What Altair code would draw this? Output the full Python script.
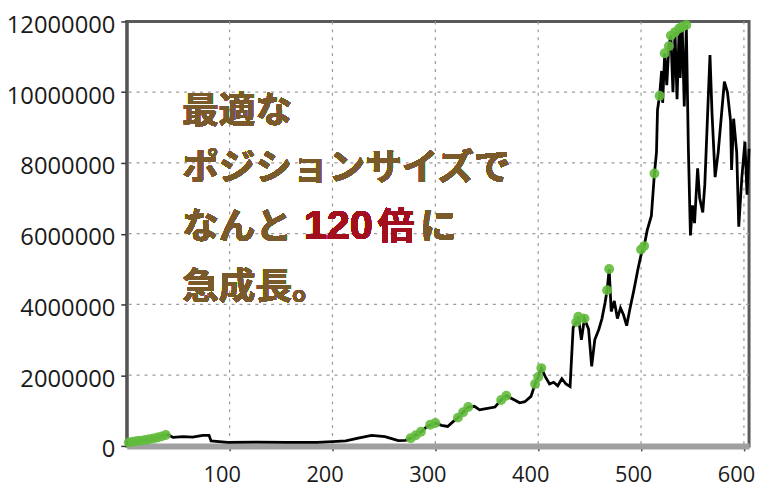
import altair as alt
import pandas as pd

# Equity curve (trade number, account balance in yen)
eq_x = [0, 7, 13, 21, 29, 36, 40, 45, 55, 64, 74, 80, 82, 98, 127, 156, 185, 200, 213, 225,
        238, 251, 264, 271, 276, 286, 292, 300, 306, 312, 317, 322, 327, 332, 338, 343, 348, 358,
        364, 369, 377, 382, 387, 393, 397, 400, 403, 407, 411, 415, 419, 423, 427, 431, 434, 437,
        439, 442, 445, 449, 452, 455, 459, 462, 465, 467, 469, 471, 474, 477, 480, 483, 486, 489,
        493, 497, 500, 503, 506, 510, 513, 515, 516, 518, 520, 521, 523, 525, 527, 529, 531, 533,
        535, 537, 538, 540, 542, 544, 546, 548, 550, 552, 555, 557, 560, 562, 565, 567, 569, 572,
        575, 578, 581, 584, 587, 588, 590, 593, 595, 598, 601, 603, 605]
eq_y = [100000, 120000, 150000, 180000, 220000, 280000, 320000, 240000, 260000, 250000,
        300000, 300000, 140000, 100000, 110000, 100000, 100000, 120000, 140000, 220000,
        300000, 260000, 150000, 160000, 220000, 400000, 550000, 650000, 580000, 550000,
        680000, 800000, 950000, 1100000, 1120000, 1020000, 1050000, 1100000,
        1300000, 1420000, 1300000, 1220000, 1250000, 1400000, 1750000, 1950000, 2200000,
        1950000, 1750000, 1800000, 1700000, 1900000, 1750000, 1680000, 3350000, 3500000,
        3650000, 3000000, 3600000, 3300000, 2250000, 3000000, 3300000, 3600000, 4050000,
        4400000, 5000000, 3800000, 4100000, 3600000, 3900000, 3700000, 3400000, 3850000,
        4400000, 5000000, 5400000, 5650000, 6100000, 6500000, 7700000, 8300000, 9500000,
        9900000, 10600000, 9700000, 11100000, 10200000, 11300000, 11600000, 10000000, 11700000,
        9800000, 11800000, 10400000, 11850000, 9600000, 11900000, 8400000, 5950000, 6800000,
        6300000, 7850000, 7000000, 6600000, 7400000, 9600000, 11050000, 9400000, 7600000,
        8300000, 9300000, 10300000, 10000000, 9200000, 7800000, 9250000, 8300000, 6200000,
        7600000, 8600000, 7100000, 8400000]

# New equity highs (green markers)
hi_x = [2, 6, 10, 14, 18, 22, 26, 30, 34, 38, 276, 281, 286, 295, 300, 322, 327, 332, 364, 369,
        397, 400, 403, 437, 439, 445, 467, 469, 500, 503, 513, 518, 523, 527, 529, 533, 537, 540,
        544]
hi_y = [100000, 120000, 140000, 150000, 170000, 190000, 210000, 240000, 270000, 310000,
        220000, 300000, 400000, 600000, 650000, 800000, 950000, 1100000, 1300000, 1420000,
        1750000, 1950000, 2200000, 3500000, 3650000, 3600000, 4400000, 5000000, 5550000,
        5650000, 7700000, 9900000, 11100000, 11300000, 11600000, 11700000, 11800000,
        11850000, 11900000]

x_ticks = [100, 200, 300, 400, 500, 600]
y_ticks = [0, 1000000, 2000000, 3000000, 4000000, 5000000, 6000000, 7000000, 8000000,
           9000000, 10000000, 11000000, 12000000]
y_grid = [2000000, 4000000, 6000000, 8000000, 10000000]

X_DOMAIN = [0, 605]
Y_DOMAIN = [0, 12000000]
BROWN = "#7a5a2b"
RED = "#a3101d"
LABEL_FONT = "Open Sans"

xs = alt.Scale(domain=X_DOMAIN, nice=False, zero=False)
ys = alt.Scale(domain=Y_DOMAIN, nice=False)

x_axis = alt.Axis(values=x_ticks, grid=False, format="d",
                  labelFont=LABEL_FONT, labelFontSize=22, labelColor="#1a1a1a",
                  labelPadding=14, labelOffset=-8, tickSize=5, tickColor="#444", tickWidth=1.5,
                  domainColor="#a0a0a0", domainWidth=6)
y_axis = alt.Axis(values=y_ticks, grid=False, format="d",
                  labelExpr="datum.value % 2000000 === 0 ? datum.label : ''",
                  labelFont=LABEL_FONT, labelFontSize=24, labelColor="#1a1a1a",
                  labelPadding=6, labelOffset=4, tickSize=6, tickColor="#333",
                  tickWidth=1.5, domainColor="#555", domainWidth=3)

eq_df = pd.DataFrame({"x": eq_x, "y": eq_y})
hi_df = pd.DataFrame({"x": hi_x, "y": hi_y})
xg_df = pd.DataFrame({"x": x_ticks})
yg_df = pd.DataFrame({"y": y_grid})

grid_style = dict(color="#9a9a9a", strokeDash=[3, 5], strokeWidth=1.2)

vgrid = alt.Chart(xg_df).mark_rule(**grid_style).encode(
    x=alt.X("x:Q", scale=xs, axis=x_axis, title=None)
)
hgrid = alt.Chart(yg_df).mark_rule(**grid_style).encode(
    y=alt.Y("y:Q", scale=ys, axis=y_axis, title=None)
)

line = alt.Chart(eq_df).mark_line(color="black", strokeWidth=2.8).encode(
    x=alt.X("x:Q", scale=xs, axis=x_axis, title=None),
    y=alt.Y("y:Q", scale=ys, axis=y_axis, title=None),
)

pts = alt.Chart(hi_df).mark_circle(color="#62bb3c", size=100, opacity=0.9).encode(
    x=alt.X("x:Q", scale=xs, axis=x_axis, title=None),
    y=alt.Y("y:Q", scale=ys, axis=y_axis, title=None),
)

TXT_FONT = "Noto Sans CJK JP"


def label(text, xv, yv, color, font=TXT_FONT, size=37):
    return alt.Chart(eq_df).mark_text(
        text=text, align="left", baseline="middle", font=font, fontSize=size,
        fontWeight="bold", color=color
    ).encode(x=alt.datum(xv, scale=xs), y=alt.datum(yv, scale=ys))


texts = [
    label("最適な", 54, 9450000, BROWN),
    label("ポジションサイズで", 54, 7830000, BROWN),
    label("なんと", 54, 6150000, BROWN),
    label("120", 172, 6200000, RED, font="Liberation Sans", size=42),
    label("倍", 244, 6150000, RED),
    label("に", 285, 6150000, BROWN),
    label("急成長。", 54, 4470000, BROWN),
]

chart = alt.layer(vgrid, hgrid, line, pts, *texts).properties(
    width=629, height=429,
    autosize=alt.AutoSizeParams(type="none"),
    padding={"left": 120, "top": 11, "right": 6, "bottom": 48},
    background="white",
).configure_view(stroke="#5a5a5a", strokeWidth=3)

chart.save("out.html", embed_options={"renderer": "svg", "actions": False})
